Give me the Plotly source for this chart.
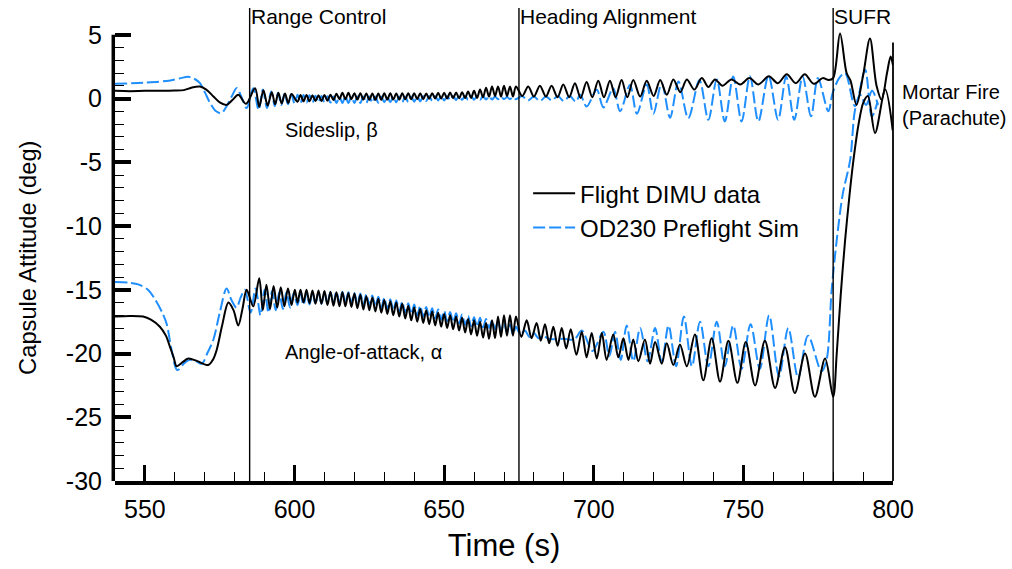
import plotly.graph_objects as go

# ---------------- data ----------------
# common sample times for the fast-oscillation part of the entry (s)
t_dense = [601, 602, 603, 604, 605, 606, 607, 608, 609, 610,
           611, 612, 613, 614, 615, 616, 617, 618, 619, 620,
           621, 622, 623, 624, 625, 626, 627, 628, 629, 630,
           631, 632, 633, 634, 635, 636, 637, 638, 639, 640,
           641, 642, 643, 644, 645, 646, 647, 648, 649, 650,
           651, 652, 653, 654, 655, 656, 657, 658, 659, 660,
           661, 662, 663, 664, 665, 666, 667, 668, 669, 670,
           671, 672, 673, 674]

# ---- Sideslip beta, flight DIMU data (deg)
t_beta_flight_a = [540, 545, 550, 555, 560, 563, 565.5, 568.4, 570.5, 572.9, 575, 577.3, 579.3,
                   581.2, 583.8, 586.8, 588.2, 589.6, 591.0, 592.4, 593.5, 594.6, 595.7, 596.8,
                   597.9, 599.0]
beta_flight_a = [0.6, 0.58, 0.6, 0.6, 0.62, 0.66, 0.85, 0.94, 0.7, 0.16, -0.3, -0.5, -0.1,
                 0.3, -0.42, 0.8, -0.65, 0.65, -0.55, 0.5, -0.45, 0.45, -0.4, 0.4,
                 -0.35, 0.35]
beta_flight_dense = [-0.25, 0.28, -0.22, 0.28, -0.22, 0.25, -0.2, 0.25, -0.2, 0.28,
                     -0.18, 0.3, -0.12, 0.38, -0.05, 0.45, -0.05, 0.45, -0.05, 0.42,
                     -0.08, 0.42, -0.08, 0.4, -0.1, 0.4, -0.1, 0.4, -0.1, 0.42,
                     -0.08, 0.42, -0.08, 0.4, -0.08, 0.42, -0.06, 0.42, -0.06, 0.42,
                     -0.05, 0.42, -0.05, 0.4, -0.02, 0.42, 0.0, 0.45, 0.0, 0.45,
                     0.0, 0.48, 0.02, 0.48, 0.02, 0.5, 0.03, 0.55, 0.05, 0.6,
                     0.05, 0.7, 0.1, 0.85, 0.15, 0.95, 0.2, 0.95, 0.15, 1.0,
                     0.2, 0.95, 0.15, 0.95]
t_beta_flight_b = [676.1, 678.1, 680.0, 682.0, 684.0, 685.9, 687.9, 689.8, 691.8, 693.7,
                   695.6, 697.6, 699.5, 701.5, 703.4, 705.4, 707.3, 709.3, 711.2, 713.2,
                   715.5, 717.7, 720.0, 722.2, 724.4, 726.6, 728.9, 731.1, 733.6, 736.1,
                   738.3, 740.5, 743.0, 746.0, 749.0, 752.0, 755.0, 758.5, 761.5, 764.5,
                   767.5, 770.5, 773.5, 776.5, 778.5, 780.0, 782.3, 784.5, 785.8, 787.8,
                   790.0, 792.3, 794.5, 796.2, 798.0, 799.2, 800.0]
beta_flight_b = [0.2, 0.95, 0.15, 1.0, 0.15, 1.0, 0.1, 1.1, 0.1, 1.2,
                 0.05, 1.3, 0.1, 1.4, 0.1, 1.4, 0.1, 1.45, 0.1, 1.45,
                 0.15, 1.4, 0.2, 1.45, 0.3, 1.5, 0.5, 1.5, 0.7, 1.6,
                 0.9, 1.5, 1.0, 1.5, 1.1, 1.6, 1.1, 1.75, 1.2, 1.9,
                 1.2, 1.9, 1.15, 1.6, 1.45, 1.6, 5.1, 2.0, 1.4, -0.5,
                 1.8, 4.7, 1.0, -0.1, 2.0, 3.3, 2.6]

# ---- Sideslip beta, OD230 preflight simulation (deg)
t_beta_sim_a = [540, 550, 558, 562, 564.5, 566.5, 568.4, 570.0, 571.8, 573.8, 575.6, 577.3,
                579.0, 580.7, 582.3, 584.0, 586.2, 588.0, 589.4, 590.8, 592.2, 593.4,
                594.5, 595.6, 596.7, 597.8, 598.9, 600.0]
beta_sim_a = [1.15, 1.25, 1.4, 1.6, 1.7, 1.55, 1.2, 0.5, -0.36, -1.0, -1.15, -0.6,
              0.16, 0.82, 0.1, -0.75, 0.8, -0.9, 0.7, -0.75, 0.55, -0.6,
              0.45, -0.5, 0.4, -0.45, 0.35, -0.4]
beta_sim_dense = [0.3, -0.35, 0.28, -0.32, 0.25, -0.3, 0.22, -0.3, 0.2, -0.3,
                  0.18, -0.32, 0.15, -0.35, 0.15, -0.35, 0.15, -0.35, 0.15, -0.35,
                  0.15, -0.35, 0.15, -0.35, 0.15, -0.33, 0.15, -0.33, 0.15, -0.3,
                  0.15, -0.3, 0.15, -0.3, 0.15, -0.28, 0.15, -0.28, 0.15, -0.25,
                  0.18, -0.22, 0.18, -0.2, 0.2, -0.18, 0.2, -0.15, 0.2, -0.15,
                  0.2, -0.12, 0.2, -0.12, 0.22, -0.1, 0.22, -0.1, 0.22, -0.1,
                  0.2, -0.1, 0.18, -0.08, 0.18, -0.08, 0.15, -0.05, 0.15, -0.05,
                  0.12, -0.05, 0.12, -0.05]
t_beta_sim_b = [676, 678, 680, 682, 684, 686, 688, 690, 692, 694,
                695.5, 697.6, 701.0, 703.2, 706.5, 708.8, 712.1, 714.4, 717.7, 719.9,
                722.7, 725.5, 728.3, 731.6, 735.3, 738.3, 741.1, 743.8, 746.6, 749.4,
                752.2, 755.0, 758.4, 761.6, 764.3, 767.0, 769.8, 772.6, 774.9, 778.4,
                779.8, 782.0, 784.0, 787.3, 790.7, 792.9, 794.8]
beta_sim_b = [0.2, -0.15, 0.15, -0.2, 0.15, -0.15, 0.2, -0.2, 0.2, -0.25,
              0.3, -0.63, 0.68, -0.7, 0.8, -1.0, 1.07, -1.2, 1.1, -1.2,
              1.2, -1.5, 1.33, -1.55, 1.45, -1.67, 1.5, -1.8, 1.73, -1.8,
              1.75, -1.8, 1.8, -1.67, 1.73, -1.67, 1.73, -1.4, 1.6, -1.0,
              0.4, 1.6, 2.0, -0.6, 2.25, -1.4, -0.3]

# ---- Angle of attack alpha, flight DIMU data (deg)
t_alpha_flight_a = [540, 545, 549.4, 552, 555, 557, 558.4, 559.6, 560.6, 562.5,
                    564.5, 567.5, 571.2, 572.7, 574.0, 575.8, 577.9, 579.6, 581.2, 582.6,
                    584.0, 586.2, 588.2, 589.4, 590.6, 591.8, 593.0, 594.2, 595.4, 596.6,
                    597.8, 599.0, 600.1]
alpha_flight_a = [-17.1, -17.05, -17.1, -17.35, -17.9, -18.6, -19.5, -20.3, -21.0, -20.7,
                  -20.4, -20.6, -20.9, -20.5, -19.7, -17.8, -16.0, -16.6, -17.8, -16.5,
                  -15.0, -16.3, -14.1, -16.6, -14.6, -16.5, -14.7, -16.4, -14.8, -16.3,
                  -14.9, -16.2, -15.0]
alpha_flight_dense = [-16.0, -15.0, -16.0, -15.0, -16.05, -15.05, -16.1, -15.05, -16.1, -15.1,
                      -16.2, -15.15, -16.25, -15.2, -16.3, -15.2, -16.3, -15.25, -16.35, -15.3,
                      -16.45, -15.4, -16.55, -15.5, -16.6, -15.6, -16.7, -15.7, -16.8, -15.8,
                      -16.9, -15.9, -17.0, -16.0, -17.1, -16.1, -17.25, -16.25, -17.4, -16.4,
                      -17.5, -16.5, -17.6, -16.6, -17.7, -16.7, -17.8, -16.8, -17.9, -16.9,
                      -18.0, -17.0, -18.1, -17.1, -18.2, -17.2, -18.35, -17.3, -18.5, -17.4,
                      -18.6, -17.5, -18.75, -17.6, -18.85, -17.4, -18.8, -17.1, -18.7, -17.0,
                      -18.6, -17.0, -18.6, -17.1]
t_alpha_flight_b = [675.8, 677.6, 679.2, 680.9, 682.3, 683.7, 685.1, 686.5, 687.9, 689.3,
                    690.8, 692.3, 694.2, 696.0, 697.6, 699.3, 701.0, 702.7, 704.3, 706.5,
                    708.2, 709.9, 711.6, 713.2, 714.9, 717.1, 718.8, 720.5, 722.7, 724.4,
                    726.6, 728.8, 731.1, 733.8, 736.6, 739.4, 742.2, 745.0, 748.0, 750.8,
                    753.9, 757.2, 760.6, 763.9, 767.2, 770.6, 773.9, 777.3, 780.0, 781.2,
                    782.5, 784.0, 785.5, 786.8, 788.5, 790.1, 791.6, 794.0, 797.4, 799.9]
alpha_flight_b = [-18.7, -17.4, -18.8, -17.6, -19.0, -17.7, -19.2, -17.9, -19.4, -18.0,
                  -19.6, -18.1, -20.1, -18.3, -20.3, -18.4, -20.4, -18.4, -20.5, -18.5,
                  -20.3, -18.8, -20.5, -18.9, -20.6, -18.9, -20.8, -19.1, -20.8, -19.2,
                  -20.9, -19.3, -21.0, -18.5, -22.1, -18.8, -22.2, -19.0, -22.3, -19.1,
                  -22.5, -19.0, -22.7, -19.5, -23.1, -20.0, -23.4, -20.4, -23.4, -20.0,
                  -15.5, -11.1, -7.5, -4.8, -2.0, -0.3, 0.2, -2.7, 0.7, -2.5]

# ---- Angle of attack alpha, OD230 preflight simulation (deg)
t_alpha_sim_a = [540, 545, 548, 551.0, 553.5, 556.0, 557.3, 558.9, 560.8, 563.0,
                 565.0, 567.0, 569.0, 571.0, 572.9, 575.0, 577.3, 578.9, 580.6, 582.0,
                 583.4, 585.3, 587.0, 588.6, 590.0, 591.3, 592.5, 593.7, 594.9, 596.1,
                 597.3, 598.5, 599.7]
alpha_sim_a = [-14.4, -14.45, -14.6, -15.0, -15.8, -16.9, -17.7, -19.7, -21.3, -20.8,
               -20.5, -20.6, -20.8, -19.9, -18.9, -16.8, -14.9, -15.8, -16.4, -15.6,
               -15.0, -16.8, -14.9, -17.0, -15.0, -16.8, -15.1, -16.6, -15.2, -16.5,
               -15.2, -16.4, -15.3]
alpha_sim_dense = [-16.2, -15.3, -16.2, -15.3, -16.15, -15.25, -16.1, -15.2, -16.1, -15.2,
                   -16.05, -15.2, -16.0, -15.15, -16.0, -15.15, -16.0, -15.2, -16.05, -15.25,
                   -16.1, -15.3, -16.15, -15.35, -16.2, -15.45, -16.3, -15.55, -16.4, -15.65,
                   -16.5, -15.75, -16.6, -15.85, -16.7, -15.95, -16.8, -16.05, -16.9, -16.15,
                   -17.0, -16.25, -17.1, -16.35, -17.15, -16.45, -17.25, -16.55, -17.35, -16.65,
                   -17.45, -16.75, -17.55, -16.85, -17.65, -16.95, -17.75, -17.05, -17.85, -17.15,
                   -17.9, -17.2, -17.95, -17.3, -18.0, -17.4, -18.1, -17.5, -18.2, -17.6,
                   -18.35, -17.75, -18.5, -17.9]
t_alpha_sim_b = [675.5, 677.0, 678.5, 680.0, 681.5, 683.0, 685.0, 690.0, 693.5, 696.0,
                 699.6, 703.2, 705.2, 707.1, 709.0, 711.0, 713.2, 715.5, 718.0, 720.5,
                 722.7, 725.0, 727.5, 730.1, 732.8, 735.5, 738.3, 741.1, 743.8, 746.6,
                 749.4, 752.4, 755.5, 758.6, 761.9, 765.0, 768.3, 771.6, 776.1, 777.8,
                 779.5, 781.2, 783.2, 785.7, 787.3, 789.0, 791.0, 793.0, 795.0]
alpha_sim_b = [-18.5, -18.2, -18.7, -18.4, -18.8, -18.6, -18.85, -18.85, -18.9, -18.2,
               -19.8, -18.3, -20.2, -18.3, -20.5, -17.8, -20.6, -18.0, -20.6, -18.0,
               -20.7, -17.8, -21.0, -17.1, -21.0, -17.5, -21.0, -17.5, -21.0, -17.8,
               -21.2, -17.7, -21.2, -17.0, -21.8, -18.0, -21.9, -18.6, -21.4, -20.5,
               -15.0, -11.1, -7.5, -4.8, -0.9, 0.3, -0.5, 0.6, -0.5]

# event markers and axis ticks
event_times = [585, 675, 780]
event_labels = ["Range Control", "Heading Alignment", "SUFR"]
mortar_time = 800
x_major = [550, 600, 650, 700, 750, 800]
x_minor = [560, 570, 580, 590, 610, 620, 630, 640, 660, 670, 680, 690,
           710, 720, 730, 740, 760, 770, 780, 790]
y_major = [-30, -25, -20, -15, -10, -5, 0, 5]
y_minor = [v for v in range(-29, 5) if v % 5 != 0]
y_title = "Capsule Attitude (deg)"

# ---------------- figure ----------------
BLACK = "#000000"
BLUE = "#1f8fff"
TEXT_FONT = "Liberation Sans, Arial"

fig = go.Figure()


def add(t, v, color, dash, name, show, rank):
    fig.add_trace(go.Scatter(
        x=t, y=v, mode="lines", name=name, showlegend=show, legendgroup=name,
        legendrank=rank,
        line=dict(color=color, width=2, dash=dash, shape="spline", smoothing=0.9),
        hoverinfo="skip"))


add(t_beta_sim_a + t_dense + t_beta_sim_b, beta_sim_a + beta_sim_dense + beta_sim_b,
    BLUE, "12px,4px", "OD230 Preflight Sim", True, 2)
add(t_alpha_sim_a + t_dense + t_alpha_sim_b, alpha_sim_a + alpha_sim_dense + alpha_sim_b,
    BLUE, "12px,4px", "OD230 Preflight Sim", False, 2)
add(t_beta_flight_a + t_dense + t_beta_flight_b, beta_flight_a + beta_flight_dense + beta_flight_b,
    BLACK, "solid", "Flight DIMU data", True, 1)
add(t_alpha_flight_a + t_dense + t_alpha_flight_b, alpha_flight_a + alpha_flight_dense + alpha_flight_b,
    BLACK, "solid", "Flight DIMU data", False, 1)

shapes = []
for t in event_times:
    shapes.append(dict(type="line", xref="x", yref="y", x0=t, x1=t, y0=-30, y1=7.1,
                       line=dict(color="black", width=1.4)))
shapes.append(dict(type="line", xref="paper", yref="y", x0=1, x1=1, y0=-30, y1=4.4,
                   line=dict(color="black", width=1.8)))
# left axis spine, only from -30 to 5
shapes.append(dict(type="line", xref="paper", yref="y", x0=-0.0022, x1=-0.0022, y0=-30.1, y1=5,
                   line=dict(color="black", width=3.5)))

annotations = []
for t, lab in zip(event_times, event_labels):
    annotations.append(dict(x=t, y=6.4, xref="x", yref="y", xshift=-1, text=lab, showarrow=False,
                            xanchor="left", yanchor="middle",
                            font=dict(size=21, family=TEXT_FONT, color="black")))
annotations.append(dict(x=mortar_time, y=-0.5, xref="x", yref="y", xshift=7,
                        text="Mortar Fire<br>(Parachute)", showarrow=False, align="left",
                        xanchor="left", yanchor="middle",
                        font=dict(size=20, family=TEXT_FONT, color="black")))
annotations.append(dict(x=612.3, y=-2.45, xref="x", yref="y", text="Sideslip, β",
                        showarrow=False, xanchor="center", yanchor="middle",
                        font=dict(size=20, family=TEXT_FONT, color="black")))
annotations.append(dict(x=622.9, y=-19.9, xref="x", yref="y", text="Angle-of-attack, α",
                        showarrow=False, xanchor="center", yanchor="middle",
                        font=dict(size=20, family=TEXT_FONT, color="black")))
# y-axis title, centred on the drawn part of the axis (-30 .. 5)
annotations.append(dict(x=0, y=(y_major[0] + y_major[-1]) / 2, xref="paper", yref="y",
                        xshift=-87, text=y_title, textangle=-90, showarrow=False,
                        xanchor="center", yanchor="middle",
                        font=dict(size=23.7, family=TEXT_FONT, color="black")))

tickfont = dict(size=25, family="Liberation Sans Narrow, Arial Narrow, Liberation Sans", color="black")

fig.update_layout(
    width=1012, height=569,
    margin=dict(l=115, r=119, t=8, b=88, autoexpand=False),
    paper_bgcolor="white", plot_bgcolor="white",
    font=dict(family=TEXT_FONT, color="black"),
    shapes=shapes, annotations=annotations,
    showlegend=True,
    legend=dict(x=0.531, y=0.655, xanchor="left", yanchor="top",
                bgcolor="rgba(0,0,0,0)", borderwidth=0, itemwidth=42,
                font=dict(size=24, family=TEXT_FONT, color="black"),
                tracegroupgap=0),
    xaxis=dict(range=[540, 800], showgrid=False, zeroline=False,
               showline=True, linecolor="black", linewidth=3.5, mirror=False,
               ticks="inside", ticklen=16, tickwidth=3, tickcolor="black",
               tickmode="array", tickvals=x_major, ticktext=[str(v) for v in x_major],
               tickfont=tickfont, ticklabelstandoff=3,
               minor=dict(tickmode="array", tickvals=x_minor, ticks="inside", ticklen=9,
                          tickwidth=1.3, tickcolor="black", showgrid=False),
               title=dict(text="Time (s)", standoff=14,
                          font=dict(size=31, family="Liberation Sans Narrow, Liberation Sans", color="black"))),
    yaxis=dict(range=[-30, 7.1], showgrid=False, zeroline=False, showline=False,
               ticks="inside", ticklen=16, tickwidth=3.5, tickcolor="black",
               tickmode="array", tickvals=y_major, ticktext=[str(v) for v in y_major],
               tickfont=tickfont, ticklabelstandoff=12,
               minor=dict(tickmode="array", tickvals=y_minor, ticks="inside", ticklen=9,
                          tickwidth=1.3, tickcolor="black", showgrid=False)),
)

fig.write_html("out.html")
